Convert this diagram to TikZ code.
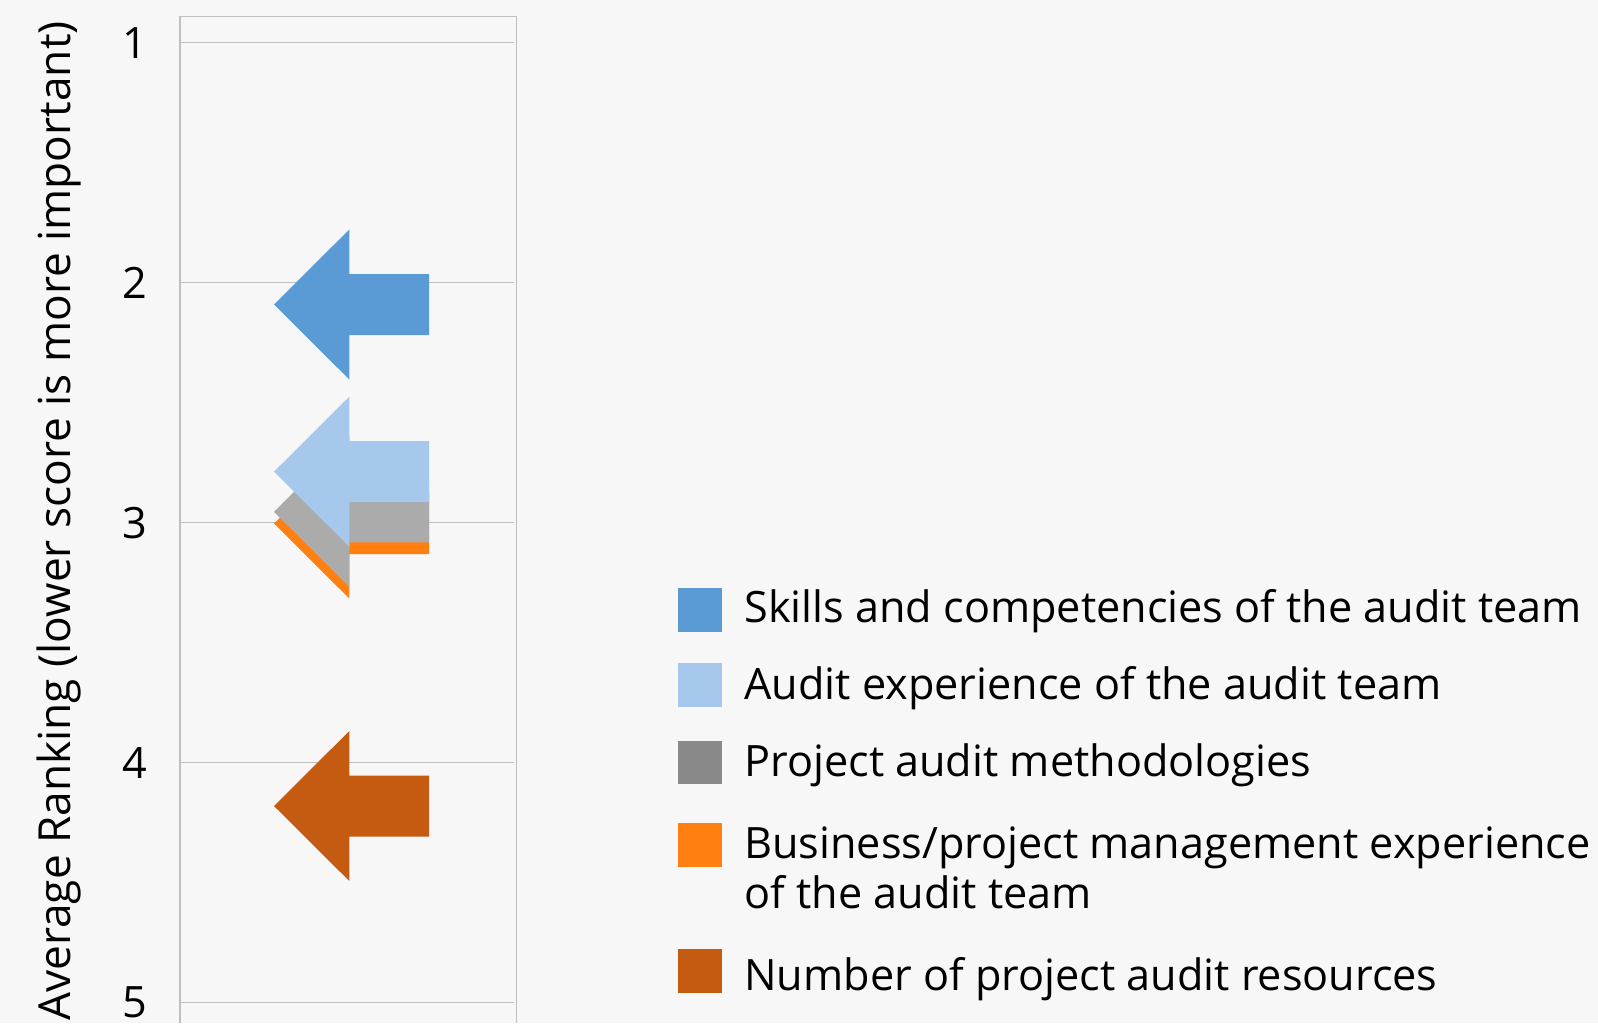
\documentclass[tikz,border=0pt]{standalone}
\usepackage{fontspec}
\setmainfont{Open Sans}
\definecolor{skillblue}{HTML}{5B9BD5}
\definecolor{expblue}{HTML}{A6C8EC}
\definecolor{methgray}{HTML}{ABABAB}
\definecolor{methgraykey}{HTML}{898989}
\definecolor{mgmtorange}{HTML}{FF8010}
\definecolor{resorange}{HTML}{C55A11}
\definecolor{chartbg}{HTML}{F7F7F7}
\definecolor{gridgray}{HTML}{BFBFBF}

\begin{document}
\begin{tikzpicture}[x=0.5pt, y=-0.5pt, font=\fontsize{21.6}{25}\selectfont]
    \fill[chartbg] (0, 0) rectangle (1598, 1023);
    \useasboundingbox (0, 0) rectangle (1598, 1023);
    % frame and grid
    \draw[gridgray, line width=0.6pt] (180, 1023) -- (180, 16.5) -- (516.5, 16.5) -- (516.5, 1023);
    \draw[gridgray, line width=0.5pt] (180, 42.7) -- (514, 42.7);
    \draw[gridgray, line width=0.5pt] (180, 282.7) -- (514, 282.7);
    \draw[gridgray, line width=0.5pt] (180, 522.7) -- (514, 522.7);
    \draw[gridgray, line width=0.5pt] (180, 762.7) -- (514, 762.7);
    \draw[gridgray, line width=0.5pt] (180, 1002.7) -- (514, 1002.7);
    \node[anchor=east, inner sep=0] (t1) at (148, 42.7) {1};
    \node[anchor=east, inner sep=0] (t2) at (148, 282.7) {2};
    \node[anchor=east, inner sep=0] (t3) at (148, 522.7) {3};
    \node[anchor=east, inner sep=0] (t4) at (148, 762.7) {4};
    \node[anchor=east, inner sep=0] (t5) at (148, 1002.7) {5};
    \node[rotate=90, anchor=base, inner sep=0, font=\fontsize{22.1}{26}\selectfont] (ytitle) at (70, 521) {Average Ranking (lower score is more important)};
    % arrows
    \fill[mgmtorange] (274, 523.5) -- ++(75.3, -75) -- ++(0, 44.5) -- ++(79.7, 0) -- ++(0, 61) -- ++(-79.7, 0) -- ++(0, 44.5) -- cycle;
    \fill[methgray] (274, 511.8) -- ++(75.3, -75) -- ++(0, 44.5) -- ++(79.7, 0) -- ++(0, 61) -- ++(-79.7, 0) -- ++(0, 44.5) -- cycle;
    \fill[expblue] (274, 471.7) -- ++(75.3, -75) -- ++(0, 44.5) -- ++(79.7, 0) -- ++(0, 61) -- ++(-79.7, 0) -- ++(0, 44.5) -- cycle;
    \fill[skillblue] (274, 304.5) -- ++(75.3, -75) -- ++(0, 44.5) -- ++(79.7, 0) -- ++(0, 61) -- ++(-79.7, 0) -- ++(0, 44.5) -- cycle;
    \fill[resorange] (274, 806) -- ++(75.3, -75) -- ++(0, 44.5) -- ++(79.7, 0) -- ++(0, 61) -- ++(-79.7, 0) -- ++(0, 44.5) -- cycle;
    % legend
    \fill[skillblue] (678, 588.3) rectangle (722.2, 631.7);
    \node[anchor=base west, inner sep=0] (key1) at (744, 622.7) {Skills and competencies of the audit team};
    \fill[expblue] (678, 663.3) rectangle (722.2, 706.7);
    \node[anchor=base west, inner sep=0] (key2) at (744, 699.3) {Audit experience of the audit team};
    \fill[methgraykey] (678, 741) rectangle (722.2, 784.3);
    \node[anchor=base west, inner sep=0] (key3) at (744, 776.7) {Project audit methodologies};
    \fill[mgmtorange] (678, 823.3) rectangle (722.2, 866.7);
    \node[anchor=base west, inner sep=0, align=left] (key4) at (744, 908.3) {Business/project management experience\\of the audit team};
    \fill[resorange] (678, 949.3) rectangle (722.2, 992.7);
    \node[anchor=base west, inner sep=0] (key5) at (744, 990) {Number of project audit resources};
\end{tikzpicture}
\end{document}
